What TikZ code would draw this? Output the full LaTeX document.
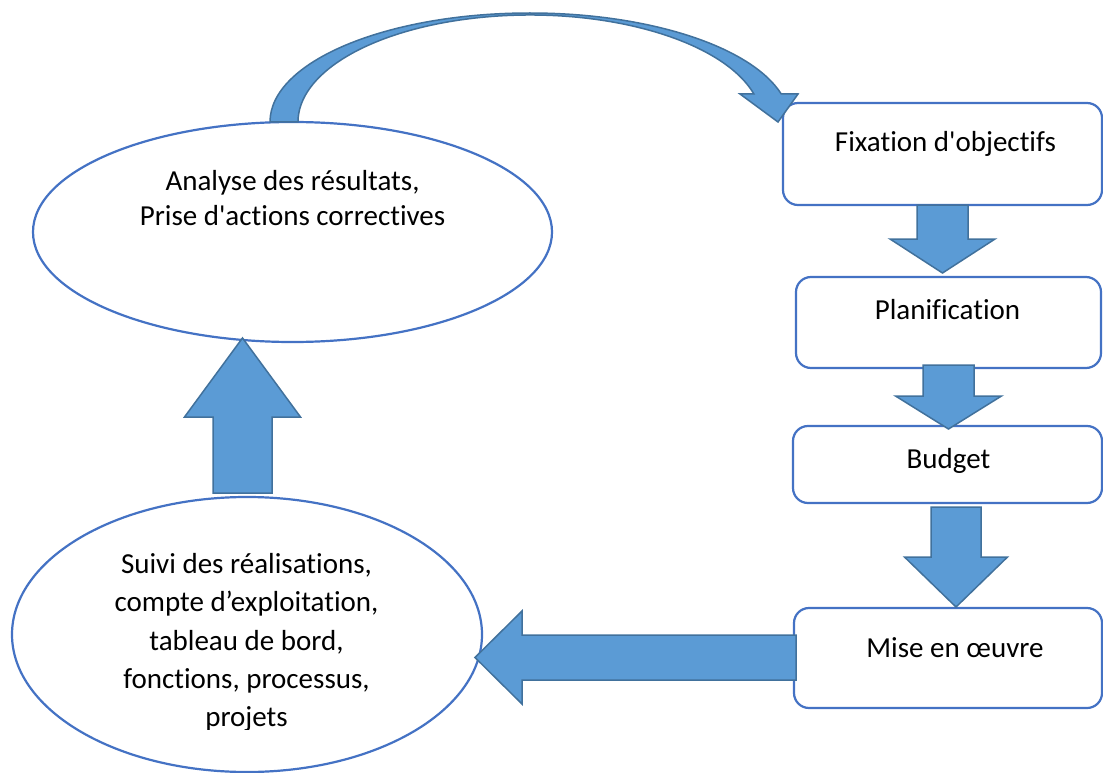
\documentclass[tikz,border=0pt]{standalone}
\usepackage{fontspec}
\setmainfont{Carlito}[Ligatures={NoCommon}]
\usetikzlibrary{shapes.geometric,calc}
\definecolor{nodeline}{HTML}{4472C4}
\definecolor{arrowfill}{HTML}{5B9BD5}
\definecolor{arrowline}{HTML}{41719C}

% block arrow pointing down: #1 top middle, #2 tip, #3 half shaft, #4 half head, #5 head length
\newcommand\blockdown[5]{%
  \draw[blockarrow] let \p1=(#1), \p2=(#2) in
    (\x2-#3pt,\y1) -- (\x2+#3pt,\y1) -- (\x2+#3pt,\y2+#5pt) -- (\x2+#4pt,\y2+#5pt)
    -- (\x2,\y2) -- (\x2-#4pt,\y2+#5pt) -- (\x2-#3pt,\y2+#5pt) -- cycle;}
% block arrow pointing up
\newcommand\blockup[5]{%
  \draw[blockarrow] let \p1=(#1), \p2=(#2) in
    (\x2-#3pt,\y1) -- (\x2+#3pt,\y1) -- (\x2+#3pt,\y2-#5pt) -- (\x2+#4pt,\y2-#5pt)
    -- (\x2,\y2) -- (\x2-#4pt,\y2-#5pt) -- (\x2-#3pt,\y2-#5pt) -- cycle;}
% block arrow pointing left
\newcommand\blockleft[5]{%
  \draw[blockarrow] let \p1=(#1), \p2=(#2) in
    (\x1,\y2+#3pt) -- (\x2+#5pt,\y2+#3pt) -- (\x2+#5pt,\y2+#4pt) -- (\x2,\y2)
    -- (\x2+#5pt,\y2-#4pt) -- (\x2+#5pt,\y2-#3pt) -- (\x1,\y2-#3pt) -- cycle;}

\begin{document}
\begin{tikzpicture}[x=1pt,y=-1pt,
  oval/.style={draw=nodeline,line width=2.2pt,ellipse,fill=white,inner sep=0pt},
  stage/.style={draw=nodeline,line width=2.2pt,rounded corners=15pt,fill=white,inner sep=0pt},
  lbl/.style={font=\fontsize{29}{35}\selectfont,inner sep=0pt,anchor=base},
  blockarrow/.style={fill=arrowfill,draw=arrowline,line width=1.5pt,line join=miter}]
\useasboundingbox (0,0) rectangle (1103,773);

% ellipses
\node[oval,minimum width=519pt,minimum height=220pt] (analyse) at (292.5,232) {};
\node[oval,minimum width=470pt,minimum height=275pt] (suivi) at (247,634.5) {};

% process boxes
\node[stage,minimum width=319pt,minimum height=102pt] (fix) at (942.5,154) {};
\node[stage,minimum width=305pt,minimum height=91pt] (plan) at (948.5,322.5) {};
\node[stage,minimum width=309pt,minimum height=77pt] (budget) at (947.5,464.5) {};
\node[stage,minimum width=308pt,minimum height=100pt] (mise) at (948,658) {};

% labels
\node[lbl] (an1) at (292.5,190) {Analyse des résultats,};
\node[lbl] (an2) at (292.5,225) {Prise d\textquotesingle actions correctives};
\node[lbl] (fixT) at (945.5,152) {Fixation d\textquotesingle objectifs};
\node[lbl] (planT) at (947.5,319) {Planification};
\node[lbl] (budgetT) at (948.5,468) {Budget};
\node[lbl] (miseT) at (955,657) {Mise en œuvre};
\node[lbl] (sv1) at (246.5,573) {Suivi des réalisations,};
\node[lbl] (sv2) at (246.5,611.5) {compte d’exploitation,};
\node[lbl] (sv3) at (246.5,650) {tableau de bord,};
\node[lbl] (sv4) at (246.5,688) {fonctions, processus,};
\begin{scope}
  \clip (0,0) rectangle (1103,729);
  \node[lbl] (sv5) at (246.5,726.5) {projets};
\end{scope}

% arrow end points
\coordinate (d1a) at (942.5,205);
\coordinate (d1b) at (942.5,273);
\coordinate (d2a) at (948.5,365);
\coordinate (d2b) at (948.5,429);
\coordinate (d3a) at (956,507);
\coordinate (d3b) at (956,607);
\coordinate (la) at (796,657.5);
\coordinate (lb) at (475,657.5);
\coordinate (ua) at (242.5,493);
\coordinate (ub) at (242.5,338);

% straight block arrows
\blockdown{d1a}{d1b}{25.5}{52.5}{34}
\blockdown{d2a}{d2b}{25.5}{53}{33}
\blockdown{d3a}{d3b}{25}{51.5}{50}
\blockleft{la}{lb}{22.5}{46.5}{47}
\blockup{ua}{ub}{29.5}{58}{79}

% curved arrow from the analysis ellipse over to the first box
\draw[blockarrow] (270,122)
  arc[start angle=180,end angle=345.1,x radius=260,y radius=109]
  -- (798,94) -- (778,122) -- (740,94) -- (753.9,94)
  arc[start angle=344.83,end angle=180,x radius=232,y radius=107] -- cycle;
\end{tikzpicture}
\end{document}
